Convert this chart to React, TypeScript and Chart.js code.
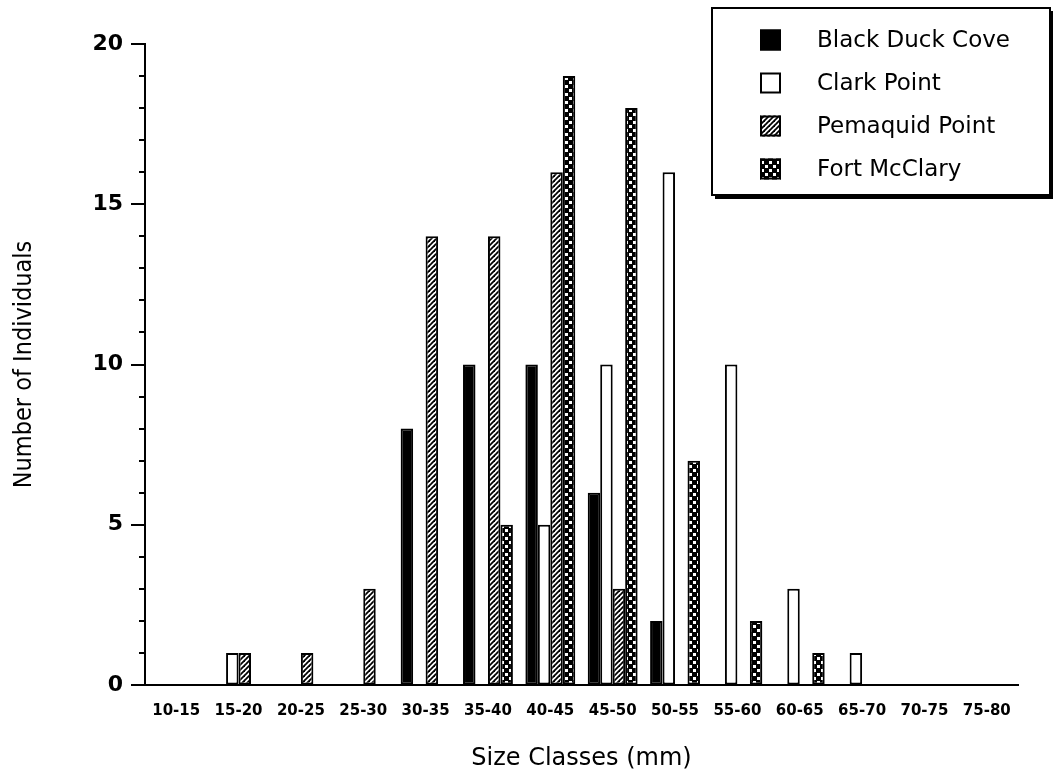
import { useEffect, useRef } from 'react';
import { Chart, registerables } from 'chart.js';

Chart.register(...registerables);

// Size classes (mm) along the x axis
const sizeClasses = [
  '10-15', '15-20', '20-25', '25-30', '30-35', '35-40', '40-45',
  '45-50', '50-55', '55-60', '60-65', '65-70', '70-75', '75-80',
];

// Number of individuals per size class at each site
const blackDuckCove = [0, 0, 0, 0, 8, 10, 10, 6, 2, 0, 0, 0, 0, 0];
const clarkPoint = [0, 1, 0, 0, 0, 0, 5, 10, 16, 10, 3, 1, 0, 0];
const pemaquidPoint = [0, 1, 1, 3, 14, 14, 16, 3, 0, 0, 0, 0, 0, 0];
const fortMcClary = [0, 0, 0, 0, 0, 5, 19, 18, 7, 2, 1, 0, 0, 0];

const siteNames = ['Black Duck Cove', 'Clark Point', 'Pemaquid Point', 'Fort McClary'];

const yMax = 20;
const yLabelStep = 5;

function hatchPattern(ctx: CanvasRenderingContext2D): CanvasPattern {
  const s = 5;
  const c = document.createElement('canvas');
  c.width = s;
  c.height = s;
  const g = c.getContext('2d')!;
  g.fillStyle = '#fff';
  g.fillRect(0, 0, s, s);
  g.strokeStyle = '#000';
  g.lineWidth = 1.8;
  const seg = (x1: number, y1: number, x2: number, y2: number) => {
    g.beginPath();
    g.moveTo(x1, y1);
    g.lineTo(x2, y2);
    g.stroke();
  };
  seg(-1, s + 1, s + 1, -1);
  seg(-1, 1, 1, -1);
  seg(s - 1, s + 1, s + 1, s - 1);
  return ctx.createPattern(c, 'repeat')!;
}

// Dark stipple: black ground with staggered white squares
function stipplePattern(ctx: CanvasRenderingContext2D): CanvasPattern {
  const s = 8;
  const c = document.createElement('canvas');
  c.width = s;
  c.height = s;
  const g = c.getContext('2d')!;
  g.fillStyle = '#000';
  g.fillRect(0, 0, s, s);
  g.fillStyle = '#fff';
  g.fillRect(1, 1, 3, 3);
  g.fillRect(5, 5, 3, 3);
  return ctx.createPattern(c, 'repeat')!;
}

// Minor (every unit) and major (every 5) tick marks on the left of the y axis
const yTickMarks = {
  id: 'yTickMarks',
  afterDraw(chart: any) {
    const y = chart.scales.y;
    const ctx = chart.ctx as CanvasRenderingContext2D;
    const x0 = chart.chartArea.left;
    ctx.save();
    ctx.strokeStyle = '#000';
    ctx.lineWidth = 2;
    y.ticks.forEach((t: any) => {
      const py = Math.round(y.getPixelForValue(t.value));
      const len = t.value % yLabelStep === 0 ? 14 : 6;
      ctx.beginPath();
      ctx.moveTo(x0 - len, py);
      ctx.lineTo(x0, py);
      ctx.stroke();
    });
    ctx.restore();
  },
};

// Boxed legend with a drop shadow in the upper right
const boxLegend = {
  id: 'boxLegend',
  afterDraw(chart: any) {
    const ctx = chart.ctx as CanvasRenderingContext2D;
    const bx = 712;
    const by = 8;
    const bw = 338;
    const bh = 187;
    ctx.save();
    ctx.fillStyle = '#000';
    ctx.fillRect(bx + 3, by + 3, bw, bh + 1);
    ctx.fillStyle = '#fff';
    ctx.fillRect(bx, by, bw, bh);
    ctx.strokeStyle = '#000';
    ctx.lineWidth = 2;
    ctx.strokeRect(bx, by, bw, bh);

    ctx.font = '23px "DejaVu Sans", sans-serif';
    ctx.textBaseline = 'middle';
    ctx.textAlign = 'left';
    chart.data.datasets.forEach((ds: any, i: number) => {
      const cy = by + 32 + i * 43;
      const sx = 760;
      const sz = 21;
      ctx.fillStyle = ds.backgroundColor;
      ctx.fillRect(sx, cy - sz / 2, sz, sz);
      ctx.lineWidth = 2;
      ctx.strokeStyle = '#000';
      ctx.strokeRect(sx + 1, cy - sz / 2 + 1, sz - 2, sz - 2);
      ctx.fillStyle = '#000';
      ctx.fillText(ds.label, 817, cy + 1);
    });
    ctx.restore();
  },
};

export default function App() {
  const canvasRef = useRef<HTMLCanvasElement | null>(null);

  useEffect(() => {
    const canvas = canvasRef.current!;
    const ctx = canvas.getContext('2d')!;
    const hatch = hatchPattern(ctx);
    const stipple = stipplePattern(ctx);
    const series = [blackDuckCove, clarkPoint, pemaquidPoint, fortMcClary];
    const fills: (string | CanvasPattern)[] = ['#000', '#fff', hatch, stipple];

    const chart = new Chart(ctx, {
      type: 'bar',
      data: {
        labels: sizeClasses,
        datasets: series.map((data, i) => ({
          label: siteNames[i],
          data,
          backgroundColor: fills[i] as any,
          borderColor: '#000',
          borderWidth: (c: any) => (c.raw === 0 ? 0 : 2),
          borderSkipped: false,
          categoryPercentage: 0.8,
          barPercentage: 1.0,
        })),
      },
      options: {
        responsive: false,
        animation: false,
        layout: { padding: { top: 44, right: 37, left: 0, bottom: 0 } },
        plugins: {
          legend: { display: false },
          tooltip: { enabled: false },
        },
        scales: {
          x: {
            afterFit: (s: any) => {
              s.height = 94;
            },
            grid: { display: true, drawOnChartArea: false, drawTicks: false },
            border: { display: true, color: '#000', width: 2 },
            ticks: {
              color: '#000',
              padding: 17,
              autoSkip: false,
              maxRotation: 0,
              font: { family: '"DejaVu Sans", sans-serif', size: 15, weight: 'bold' },
            },
            title: {
              display: true,
              text: 'Size Classes (mm)',
              color: '#000',
              font: { family: '"DejaVu Sans", sans-serif', size: 24 },
              padding: { top: 0, bottom: 6 },
            },
          },
          y: {
            min: 0,
            max: yMax,
            afterFit: (s: any) => {
              s.width = 145;
            },
            grid: { display: true, drawOnChartArea: false, drawTicks: false },
            border: { display: true, color: '#000', width: 2 },
            ticks: {
              stepSize: 1,
              color: '#000',
              padding: 22,
              autoSkip: false,
              font: { family: '"DejaVu Sans", sans-serif', size: 22, weight: 'bold' },
              callback: (v: any) => (Number(v) % yLabelStep === 0 ? String(v) : ''),
            },
            title: {
              display: true,
              text: 'Number of Individuals',
              color: '#000',
              font: { family: '"DejaVu Sans Condensed", "DejaVu Sans", sans-serif', size: 25 },
              padding: { top: 9, bottom: 0 },
            },
          },
        },
      },
      plugins: [yTickMarks, boxLegend],
    });

    return () => chart.destroy();
  }, []);

  return (
    <div style={{ position: 'fixed', left: 0, top: 0, width: 1055, height: 779, background: '#fff' }}>
      <canvas ref={canvasRef} width={1055} height={779} />
    </div>
  );
}
